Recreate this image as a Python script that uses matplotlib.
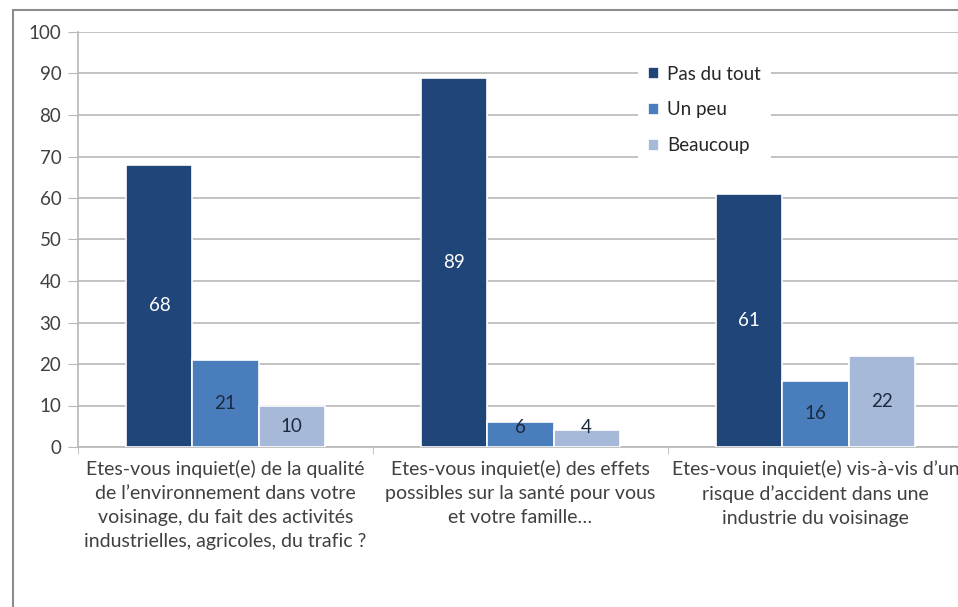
import numpy as np
import matplotlib.pyplot as plt
from matplotlib.patches import Rectangle

plt.rcParams["font.family"] = ["Lato", "DejaVu Sans"]

questions = [
    "Etes-vous inquiet(e) de la qualité\nde l\u2019environnement dans votre\nvoisinage, du fait des activités\nindustrielles, agricoles, du trafic ?",
    "Etes-vous inquiet(e) des effets\npossibles sur la santé pour vous\net votre famille\u2026",
    "Etes-vous inquiet(e) vis-à-vis d\u2019un\nrisque d\u2019accident dans une\nindustrie du voisinage",
]
series = ["Pas du tout", "Un peu", "Beaucoup"]
pas_du_tout = [68, 89, 61]
un_peu = [21, 6, 16]
beaucoup = [10, 4, 22]

colors = ["#1f4579", "#4a7dbb", "#a7b9d9"]
label_colors = ["white", "#1c2a40", "#1c2a40"]
text_color = "#404040"
grid_color = "#b8b8b8"

fig = plt.figure(figsize=(9.58, 6.07), dpi=100)
# outer chart border (cut off at right and bottom like the source)
fig.patches.append(Rectangle((13 / 958, -0.1), 1.2, 1 - 10 / 607 + 0.1,
                             transform=fig.transFigure, fill=False,
                             edgecolor="#8c8c8c", linewidth=1.5))

ax = fig.add_axes([78 / 958, 160 / 607, 885 / 958, 415 / 607])

x = np.arange(len(questions))
width = 0.224
for i, vals in enumerate([pas_du_tout, un_peu, beaucoup]):
    pos = x + (i - 1) * width
    ax.bar(pos, vals, width, color=colors[i], edgecolor="white",
           linewidth=1.2, label=series[i], zorder=3)
    for px, v in zip(pos, vals):
        ax.text(px, max(v / 2, 4.6), str(v), ha="center", va="center",
                fontsize=13.5, color=label_colors[i], zorder=4)

ax.set_ylim(0, 100)
ax.set_xlim(-0.5, len(questions) - 0.5)
ax.set_yticks(range(0, 101, 10))
ax.set_xticks(x)
ax.set_xticklabels(questions, fontsize=14, color=text_color, linespacing=1.5)
ax.set_xticks(np.arange(-0.5, len(questions), 1), minor=True)
ax.tick_params(axis="x", which="major", length=0, pad=9)
ax.tick_params(axis="x", which="minor", length=5, color=grid_color, direction="out")
ax.tick_params(axis="y", length=7, color=grid_color, labelsize=13.5,
               labelcolor=text_color, pad=5)

ax.grid(axis="y", color=grid_color, linewidth=1.2, zorder=0)
for side in ["top", "right"]:
    ax.spines[side].set_visible(False)
ax.spines["left"].set_color(grid_color)
ax.spines["bottom"].set_color(grid_color)
ax.spines["left"].set_linewidth(1.2)
ax.spines["bottom"].set_linewidth(1.2)

leg = ax.legend(loc="upper left", bbox_to_anchor=(629 / 958, 1 - 47 / 607),
                bbox_transform=fig.transFigure, frameon=True, fontsize=13.5,
                handlelength=0.6, handleheight=0.6, handletextpad=0.45,
                labelspacing=1.0, borderpad=0.5, fancybox=False)
leg.get_frame().set_facecolor("white")
leg.get_frame().set_edgecolor("none")
leg.get_frame().set_alpha(1)
for t in leg.get_texts():
    t.set_color("#262626")

fig.savefig("out.png", dpi=100)
